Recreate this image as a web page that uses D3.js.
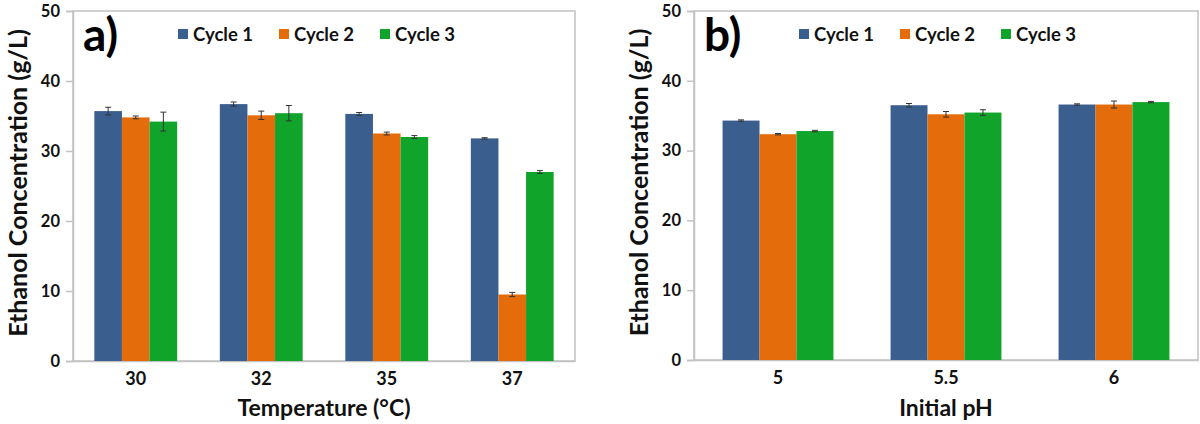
<!DOCTYPE html>
<html>
<head>
<meta charset="utf-8">
<script src="https://cdn.jsdelivr.net/npm/d3@7"></script>
<style>
  html, body { margin: 0; padding: 0; background: #fff; }
  svg { display: block; font-family: Lato, "Open Sans", sans-serif; font-weight: bold; }
</style>
</head>
<body>
<svg id="chart" width="1200" height="424"></svg>
<script>
// ---------- data ----------
const seriesNames = ["Cycle 1", "Cycle 2", "Cycle 3"];
const seriesColors = ["#3a5e8e", "#e46c0a", "#10a42a"];
const yTicks = [0, 10, 20, 30, 40, 50];

const tempCategories = ["30", "32", "35", "37"];
const tempCycle1 = [35.7, 36.7, 35.3, 31.8];
const tempCycle2 = [34.8, 35.1, 32.5, 9.5];
const tempCycle3 = [34.2, 35.4, 32.0, 27.0];
const tempErr1 = [0.55, 0.3, 0.2, 0.1];
const tempErr2 = [0.2, 0.6, 0.2, 0.3];
const tempErr3 = [1.35, 1.1, 0.2, 0.2];

const phCategories = ["5", "5.5", "6"];
const phCycle1 = [34.3, 36.5, 36.6];
const phCycle2 = [32.35, 35.2, 36.6];
const phCycle3 = [32.8, 35.45, 36.95];
const phErr1 = [0.1, 0.25, 0.1];
const phErr2 = [0.1, 0.4, 0.5];
const phErr3 = [0.1, 0.4, 0.1];

const yTitle = "Ethanol Concentration (g/L)";

// ---------- drawing ----------
const svg = d3.select("#chart");

function drawPanel(opt) {
  const g = svg.append("g");
  const x0 = d3.scaleBand().domain(opt.categories).range([opt.left, opt.right])
    .paddingInner(0.34).paddingOuter(0.17);
  const x1 = d3.scaleBand().domain(seriesNames).range([0, x0.bandwidth()]);
  const y = d3.scaleLinear().domain([0, 50]).range([opt.bottom, opt.top]);

  // plot border
  g.append("rect")
    .attr("x", opt.left).attr("y", opt.top)
    .attr("width", opt.right - opt.left).attr("height", opt.bottom - opt.top)
    .attr("fill", "none").attr("stroke", "#c2c2c2").attr("stroke-width", 1.5);

  // y axis
  const yAxis = d3.axisLeft(y).tickValues(yTicks).tickSize(7).tickPadding(6);
  const ya = g.append("g").attr("transform", `translate(${opt.left},0)`).call(yAxis);
  ya.select(".domain").attr("stroke", "#c2c2c2").attr("stroke-width", 1.5);
  ya.selectAll(".tick line").attr("stroke", "#c2c2c2").attr("stroke-width", 1.5);
  ya.selectAll(".tick text").attr("font-size", 16.5).attr("font-weight", "bold")
    .attr("font-family", "Lato, sans-serif").attr("fill", "#111");

  // x axis
  const xAxis = d3.axisBottom(x0).tickSize(0).tickPadding(11);
  const xa = g.append("g").attr("transform", `translate(0,${opt.bottom})`).call(xAxis);
  xa.select(".domain").attr("stroke", "#c2c2c2").attr("stroke-width", 1.5);
  xa.selectAll(".tick text").attr("font-size", 18).attr("font-weight", "bold")
    .attr("font-family", "Lato, sans-serif").attr("fill", "#111");

  // bars
  const rows = opt.categories.map((c, i) => ({
    cat: c,
    vals: seriesNames.map((s, k) => ({ s, k, v: opt.values[k][i], e: opt.errors[k][i] }))
  }));
  const grp = g.append("g").selectAll("g").data(rows).join("g")
    .attr("transform", d => `translate(${x0(d.cat)},0)`);
  grp.selectAll("rect").data(d => d.vals).join("rect")
    .attr("x", d => x1(d.s))
    .attr("y", d => y(d.v))
    .attr("width", x1.bandwidth())
    .attr("height", d => y(0) - y(d.v))
    .attr("fill", d => seriesColors[d.k]);

  // error bars
  const eb = grp.selectAll("g.err").data(d => d.vals).join("g").attr("class", "err");
  const cx = d => x1(d.s) + x1.bandwidth() / 2;
  eb.append("line")
    .attr("x1", cx).attr("x2", cx)
    .attr("y1", d => y(d.v + d.e)).attr("y2", d => y(d.v - d.e))
    .attr("stroke", "#333").attr("stroke-width", 1);
  eb.append("line")
    .attr("x1", d => cx(d) - 3).attr("x2", d => cx(d) + 3)
    .attr("y1", d => y(d.v + d.e)).attr("y2", d => y(d.v + d.e))
    .attr("stroke", "#333").attr("stroke-width", 1);
  eb.append("line")
    .attr("x1", d => cx(d) - 3).attr("x2", d => cx(d) + 3)
    .attr("y1", d => y(d.v - d.e)).attr("y2", d => y(d.v - d.e))
    .attr("stroke", "#333").attr("stroke-width", 1);

  // panel letter
  g.append("text").attr("x", opt.left + 10).attr("y", 51)
    .attr("font-size", 46).attr("font-weight", "bold").attr("fill", "#000")
    .text(opt.letter);

  // legend
  const lg = g.append("g").selectAll("g").data(seriesNames).join("g")
    .attr("transform", (d, i) => `translate(${opt.left + 105 + i * 101},0)`);
  lg.append("rect").attr("x", 0).attr("y", 29).attr("width", 10).attr("height", 10)
    .attr("fill", (d, i) => seriesColors[i]);
  lg.append("text").attr("x", 15).attr("y", 40.5)
    .attr("font-size", 18.5).attr("font-weight", "bold").attr("fill", "#111")
    .text(d => d);

  // axis titles
  g.append("text")
    .attr("transform", `translate(${opt.left - 46},${(opt.top + opt.bottom) / 2 - 3}) rotate(-90)`)
    .attr("text-anchor", "middle")
    .attr("font-size", 25).attr("font-weight", "bold").attr("fill", "#111")
    .text(yTitle);
  g.append("text")
    .attr("x", (opt.left + opt.right) / 2).attr("y", 416)
    .attr("text-anchor", "middle")
    .attr("font-size", 23).attr("font-weight", "bold").attr("fill", "#111")
    .text(opt.xTitle);
}

drawPanel({
  left: 73, right: 575, top: 11, bottom: 361,
  categories: tempCategories,
  values: [tempCycle1, tempCycle2, tempCycle3],
  errors: [tempErr1, tempErr2, tempErr3],
  letter: "a)", xTitle: "Temperature (°C)"
});
drawPanel({
  left: 694, right: 1198, top: 11, bottom: 360,
  categories: phCategories,
  values: [phCycle1, phCycle2, phCycle3],
  errors: [phErr1, phErr2, phErr3],
  letter: "b)", xTitle: "Initial pH"
});
</script>
</body>
</html>
